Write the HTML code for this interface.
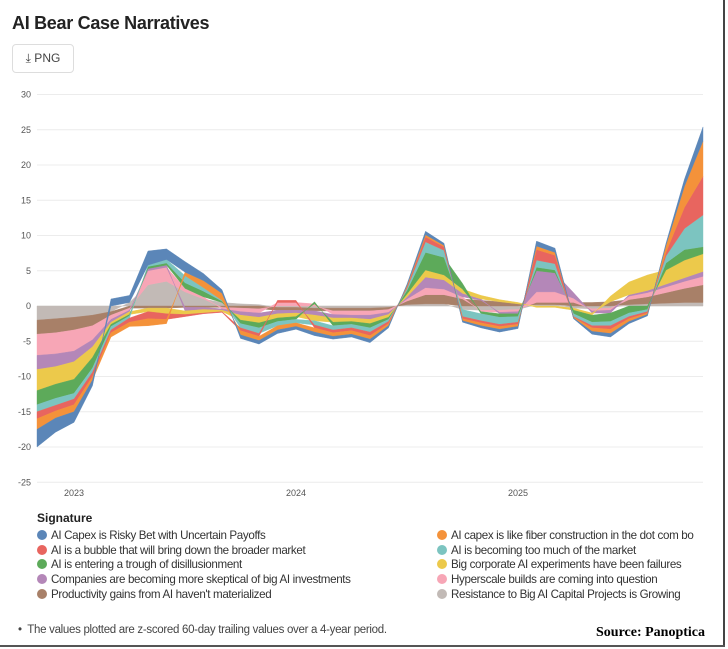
<!DOCTYPE html>
<html><head><meta charset="utf-8"><style>
body{margin:0;width:728px;height:649px;overflow:hidden;background:#fff;font-family:"Liberation Sans",sans-serif;position:relative}
.t{position:absolute;white-space:nowrap}
.lg{position:absolute;font-size:11.6px;letter-spacing:-0.35px;color:#333;white-space:nowrap}
.dot{display:inline-block;width:10px;height:10px;border-radius:50%;margin-right:4px;vertical-align:-1px}
</style></head><body>
<div class="t" style="left:12px;top:13px;font-size:18px;font-weight:bold;color:#222;letter-spacing:-0.3px">AI Bear Case Narratives</div>
<div class="t" style="left:12px;top:44px;width:60px;height:27px;border:1px solid #ddd;border-radius:4px;font-size:12px;color:#444;line-height:27px;text-align:center">⤓ PNG</div>
<svg id="ch" width="728" height="510" style="position:absolute;left:0;top:0"></svg>
<div class="t" style="left:37px;top:511px;font-size:12px;font-weight:bold;color:#222">Signature</div>
<div id="leg"></div>
<div class="t" style="left:18px;top:624px;font-size:11.5px;color:#444;letter-spacing:-0.3px">•&nbsp; The values plotted are z-scored 60-day trailing values over a 4-year period.</div>
<div class="t" style="left:596px;top:625px;font-size:14px;font-weight:bold;font-family:'Liberation Serif',serif;color:#000">Source: Panoptica</div>
<div style="position:absolute;left:723px;top:0;width:2px;height:646px;background:#444"></div>
<div style="position:absolute;left:0;top:645px;width:725px;height:2px;background:#555"></div>
<script>
const names=["AI Capex is Risky Bet with Uncertain Payoffs","AI capex is like fiber construction in the dot com bo","AI is a bubble that will bring down the broader market","AI is becoming too much of the market","AI is entering a trough of disillusionment","Big corporate AI experiments have been failures","Companies are becoming more skeptical of big AI investments","Hyperscale builds are coming into question","Productivity gains from AI haven't materialized","Resistance to Big AI Capital Projects is Growing"];
const colors=["#5b86b8","#f4923a","#e8655f","#7cc4c0","#5daa5a","#ecc94b","#b487b8","#f7a6b6","#a88068","#c2bab6"];
const yTicks=[30,25,20,15,10,5,0,-5,-10,-15,-20,-25];
const years=["2023","2024","2025"];
const yearIdx=[2,14,26];
const sBlue=[-2.5,-2,-1.5,-0.8,1,1,2,1.5,1.5,1,0.5,-0.5,-0.5,-0.5,-0.4,-0.5,-0.4,-0.4,-0.5,-0.3,0.2,0.5,0.3,-0.2,-0.3,-0.4,-0.3,0.7,0.6,-0.1,-0.4,-0.5,-0.3,-0.2,0.3,1,2];
const sOrange=[-1.5,-1,-1,-0.5,-0.6,-0.6,-1,-0.6,0.5,1,1,-0.6,-0.6,-0.6,-0.5,-0.6,-0.5,-0.5,-0.5,-0.3,0.2,0.3,0.2,-0.3,-0.4,-0.4,-0.3,0.5,0.4,-0.1,-0.5,-0.6,-0.4,-0.2,1,3,5];
const sRed=[-1,-0.8,-0.8,-0.6,-0.4,-0.6,-1,-0.8,-0.3,-0.1,-0.1,-0.4,-0.4,0.3,0.3,-0.4,-0.4,-0.4,-0.5,-0.3,0.2,0.7,0.5,-0.3,-0.3,-0.3,-0.3,1.5,1.2,-0.1,-0.3,-0.5,-0.3,-0.2,0.5,3,5.5];
const sTeal=[-1,-1,-0.8,-0.6,-0.5,-0.3,0.2,0.5,1,0.5,0.1,-0.6,-0.8,-0.6,-0.5,-0.6,-0.6,-0.5,-0.6,-0.3,0.3,1.5,1,-1,-1,-1,-0.8,1,0.9,-0.4,-0.5,-0.6,-0.5,-0.3,1,3,4.5];
const sGreen=[-2,-2,-2,-1.5,-0.3,-0.2,0.3,0.3,0.8,0.8,0.2,-0.5,-0.7,-0.5,-0.4,0.3,-0.5,-0.4,-0.6,-0.3,0.5,2.5,2.5,0.8,-0.3,-0.5,-0.4,0.5,0.4,-0.5,-1,-1.2,-1,-0.5,1,1.5,1];
const sYellow=[-3,-2.5,-2.5,-1.5,-0.3,-0.4,-0.5,-0.8,-0.5,-0.5,-0.2,-0.7,-0.8,-0.6,-0.5,-0.8,-0.6,-0.5,-0.6,-0.4,0.4,1,0.7,0.6,0.5,0.3,0.2,-0.2,-0.2,-0.3,-0.3,0.8,1.8,2.2,2,2.5,2.5];
const sPurple=[-2,-1.8,-1.5,-1,-0.4,-0.2,0.3,0.3,-0.5,-0.3,-0.2,-0.5,-0.6,-0.5,-0.4,-0.6,-0.5,-0.4,-0.6,-0.3,0.3,1.5,1.3,0.5,0.2,-0.2,-0.3,3,2.7,0.8,-0.3,-0.4,0.2,0.3,0.4,0.5,0.7];
const sPink=[-3,-3,-3,-2,-0.6,-0.3,2,2,0.5,0.3,-0.2,-0.5,-0.6,0.5,0.5,0.3,-0.5,-0.6,-0.6,-0.4,0.3,1,0.8,0.3,-0.2,-0.3,-0.3,1.5,1.5,0.6,-0.3,-0.3,0.5,0.6,0.8,1,1.2];
const sBrown=[-2,-2,-1.8,-1.5,-0.5,-0.3,-0.3,-0.3,-0.2,-0.2,-0.2,-0.3,-0.4,-0.4,-0.4,-0.4,-0.4,-0.4,-0.4,-0.3,0.5,1.3,1.3,1,0.8,0.6,0.3,0.3,0.3,0.5,0.5,0.6,0.7,1,1.5,2,2.5];
const sGray=[-2,-1.8,-1.6,-1.3,-0.8,0.5,3,3.5,2,1,0.5,0.3,0.2,-0.2,-0.2,-0.3,-0.3,-0.3,-0.3,-0.2,0.2,0.3,0.3,-0.5,-0.6,-0.6,-0.5,0.2,0.2,-0.3,-0.4,-0.3,0.2,0.3,0.4,0.5,0.5];
const series=[sBlue,sOrange,sRed,sTeal,sGreen,sYellow,sPurple,sPink,sBrown,sGray];
const NS="http://www.w3.org/2000/svg";
const svg=document.getElementById('ch');
const X0=37,X1=703,N=sBlue.length;
const x=i=>X0+(X1-X0)*i/(N-1);
const y=v=>306-7.05*v;
function mk(t,a){const e=document.createElementNS(NS,t);for(const k in a)e.setAttribute(k,a[k]);svg.appendChild(e);return e;}
yTicks.forEach(v=>{
  const g=mk('line',{x1:X0,x2:X1,y1:y(v),y2:y(v),stroke:'#ececec','stroke-width':1});
  
  
  const t=mk('text',{x:31,y:y(v)+3,'text-anchor':'end','font-size':9,fill:'#555'});
  t.textContent=v;
  
  
});
years.forEach((yr,k)=>{
  const t=mk('text',{x:x(yearIdx[k]),y:496,'text-anchor':'middle','font-size':9,fill:'#555'});
  t.textContent=yr;
  
  
});
const posBase=new Array(N).fill(0),negBase=new Array(N).fill(0);
for(let s=series.length-1;s>=0;s--){
  const d=series[s];
  const lo=[],hi=[];
  for(let i=0;i<N;i++){
    const v=d[i];
    if(v>=0){lo.push(posBase[i]);hi.push(posBase[i]+v);posBase[i]+=v;}
    else{lo.push(negBase[i]);hi.push(negBase[i]+v);negBase[i]+=v;}
  }
  let p='M'+x(0)+','+y(hi[0]);
  for(let i=1;i<N;i++)p+='L'+x(i)+','+y(hi[i]);
  for(let i=N-1;i>=0;i--)p+='L'+x(i)+','+y(lo[i]);
  const a=mk('path',{d:p+'Z',fill:colors[s],stroke:colors[s],'stroke-width':0.4});
  
  
}
const leg=document.getElementById('leg');
names.forEach((n,k)=>{
  const d=document.createElement('div');
  d.className='lg';
  const col=k%2,row=Math.floor(k/2);
  d.style.left=(col?437:37)+'px';d.style.top=(529+row*14.7)+'px';
  if(col){d.style.width='271px';d.style.overflow='hidden';}
  d.innerHTML='<span class="dot" style="background:'+colors[k]+'"></span>'+n;
  
  
  leg.appendChild(d);
});
</script>
</body></html>
